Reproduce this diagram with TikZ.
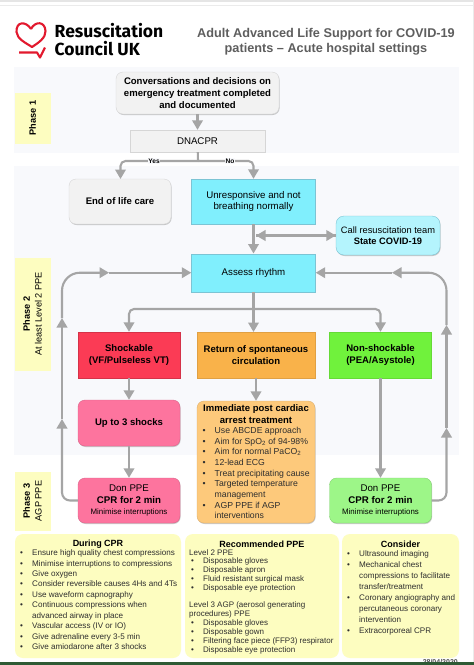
\documentclass[tikz,border=0pt]{standalone}
\usepackage{fontspec}
\setmainfont{Liberation Sans}
\newfontfamily\logofont{Fira Sans}
\usetikzlibrary{arrows.meta,shadows}
\definecolor{panelgrey}{HTML}{F8F9FC}
\definecolor{flowgrey}{HTML}{A5A5A5}
\definecolor{softgrey}{HTML}{F2F2F2}
\definecolor{softline}{HTML}{D6D6D6}
\definecolor{cyanfill}{HTML}{80EFFD}
\definecolor{cyanline}{HTML}{7CC4D4}
\definecolor{callfill}{HTML}{B4F4FD}
\definecolor{redfill}{HTML}{FB3B55}
\definecolor{orangefill}{HTML}{F9B24A}
\definecolor{greenfill}{HTML}{70F23C}
\definecolor{pinkfill}{HTML}{FD749E}
\definecolor{pinkline}{HTML}{D9638A}
\definecolor{peachfill}{HTML}{FDC97B}
\definecolor{peachline}{HTML}{DDB070}
\definecolor{limefill}{HTML}{9DF688}
\definecolor{limeline}{HTML}{84CF72}
\definecolor{notefill}{HTML}{FDFDC0}
\definecolor{titlegrey}{HTML}{5E5E5E}
\definecolor{logored}{HTML}{E2192E}
\definecolor{stripgreen}{HTML}{2E5A34}
\newcommand{\itm}[1]{\makebox[12pt][l]{\textbullet}#1}
\newcommand{\cnt}[1]{\hspace*{12pt}#1}
\newcommand{\ritm}[1]{\hspace*{2pt}\itm{#1}}
\newcommand{\panel}[2]{\fill[panelgrey] (14,#1) rectangle (459,#2)}
\tikzset{
	flow/.style = {draw=flowgrey, line width=2.1pt, rounded corners=5pt},
	tip/.style = {-{Triangle[width=10.5pt,length=9.5pt]}},
	bigbox/.style = {draw, align=center, inner sep=0pt, font=\fontsize{9.7}{11.6}\selectfont,
		drop shadow={shadow xshift=0.6pt,shadow yshift=-1pt,fill=black!35,opacity=0.6}},
	boldtext/.style = {font=\fontsize{9.55}{11.6}\selectfont\bfseries},
	softbox/.style = {bigbox, rounded corners=7pt, fill=softgrey, draw=softline},
	cyanbox/.style = {bigbox, fill=cyanfill, draw=cyanline},
	pinkbox/.style = {bigbox, rounded corners=7pt, fill=pinkfill, draw=pinkline},
	limebox/.style = {bigbox, rounded corners=7pt, fill=limefill, draw=limeline},
	phasebox/.style = {fill=notefill, draw=notefill, align=center, inner sep=0pt, rotate=90,
		font=\fontsize{9.2}{11.8}\selectfont, minimum height=35pt,
		drop shadow={shadow xshift=0.5pt,shadow yshift=-0.6pt,fill=black!30,opacity=0.4}},
	notebox/.style = {fill=notefill, rounded corners=8pt, minimum height=124pt, inner sep=0pt},
	listtext/.style = {anchor=north west, align=left, inner sep=0pt, text=black!82},
	edgelabel/.style = {fill=panelgrey, inner sep=0.6pt, font=\fontsize{6.6}{8}\selectfont\bfseries}
}

\begin{document}
\begin{tikzpicture}[x=1pt,y=-1pt]
\useasboundingbox (0,0) rectangle (474,665);
\fill[white] (0,0) rectangle (474,665);
%Page edges
	\fill[black!10] (0,0) rectangle (474,2);
	\fill[black!8] (0,4.5) rectangle (474,5.5);
	\fill[black!8] (473,0) rectangle (474,665);
%Logo
	\draw[logored, line width=2.1pt, line join=round] (31,29) .. controls (26,21) and (16,21) .. (16.5,32)
		.. controls (17,39) and (26,43) .. (32,47) .. controls (38,43) and (46,38) .. (45.5,31)
		.. controls (45,21) and (35,21) .. (31,29);
	\draw[logored, line width=2.1pt, line join=round] (19,52.5) -- (37,52.5) -- (40,57.5) -- (45,47.5);
	\node[anchor=west, inner sep=0pt, align=left, font=\logofont\fontsize{17.5}{17.5}\selectfont\bfseries] (logotext) at (54.5,39.5) {Resuscitation\\Council UK};
%Title
	\node[inner sep=0pt, align=center, text=titlegrey, font=\fontsize{12.7}{15}\selectfont\bfseries] (title) at (326,42) {Adult Advanced Life Support for COVID-19\\patients -- Acute hospital settings};
%Panels
	\panel{67}{153};
	\panel{166}{455};
%Fixed points of the connectors
	\coordinate (splitdn) at (198,161);
	\coordinate (yesend) at (120.5,179);
	\coordinate (callstub) at (256,235.5);
	\coordinate (splitas) at (253.5,309);
	\coordinate (roscin) at (253.5,332);
	\coordinate (leftlow) at (62,419);
	\coordinate (lefthigh) at (62,318);
	\coordinate (lefttop) at (109,272.7);
	\coordinate (rightlow) at (446.5,428);
	\coordinate (righthigh) at (446.5,325);
	\coordinate (righttop) at (392,272.7);
%Boxes
	\node[softbox, minimum width=163pt, minimum height=42pt, boldtext] (talk) at (197.5,93) {Conversations and decisions on\\emergency treatment completed\\and documented};
	\node[bigbox, rectangle, fill=softgrey, draw=softline, minimum width=135pt, minimum height=22pt] (dnacpr) at (197.5,141) {DNACPR};
	\node[softbox, minimum width=102pt, minimum height=45pt, boldtext] (endlife) at (120,201.5) {End of life care};
	\node[cyanbox, minimum width=124pt, minimum height=45pt] (unresp) at (253.5,201.5) {Unresponsive and not\\breathing normally};
	\node[bigbox, rounded corners=8pt, fill=callfill, draw=cyanline, minimum width=104pt, minimum height=39pt, font=\fontsize{9.3}{11.6}\selectfont] (callteam) at (388,235.5) {Call resuscitation team\\\textbf{State COVID-19}};
	\node[cyanbox, minimum width=124pt, minimum height=38pt] (assess) at (253.5,272.7) {Assess rhythm};
	\node[bigbox, fill=redfill, draw=redfill!85!black, minimum width=102pt, minimum height=46pt, boldtext] (shock) at (129,355) {Shockable\\(VF/Pulseless VT)};
	\node[bigbox, fill=orangefill, draw=orangefill!90!black, minimum width=118pt, minimum height=46pt, boldtext] (rosc) at (256,355) {Return of spontaneous\\circulation};
	\node[bigbox, fill=greenfill, draw=greenfill!90!black, minimum width=102pt, minimum height=46pt, boldtext] (noshock) at (380.5,355) {Non-shockable\\(PEA/Asystole)};
	\node[pinkbox, minimum width=102pt, minimum height=46pt, boldtext] (upto) at (129,423) {Up to 3 shocks};
	\node[pinkbox, minimum width=102pt, minimum height=45pt] (donleft) at (129,500.5) {Don PPE\\\textbf{CPR for 2 min}\\{\fontsize{7.9}{12}\selectfont Minimise interruptions}};
	\node[limebox, minimum width=102pt, minimum height=45pt] (donright) at (380.5,500.5) {Don PPE\\\textbf{CPR for 2 min}\\{\fontsize{7.9}{12}\selectfont Minimise interruptions}};
	\node[bigbox, rounded corners=7pt, fill=peachfill, draw=peachline, minimum width=118pt, minimum height=122pt] (after) at (256,462) {};
	\node[inner sep=0pt, align=center, font=\fontsize{9.5}{11.4}\selectfont\bfseries] (aftertitle) at (256,414) {Immediate post cardiac\\arrest treatment};
	\node[listtext, font=\fontsize{8.7}{10.65}\selectfont] (afterlist) at (202.5,427) {\itm{Use ABCDE approach}\\\itm{Aim for SpO\textsubscript{2} of 94-98\%}\\\itm{Aim for normal PaCO\textsubscript{2}}\\\itm{12-lead ECG}\\\itm{Treat precipitating cause}\\\itm{Targeted temperature}\\\cnt{management}\\\itm{AGP PPE if AGP}\\\cnt{interventions}};
%Connectors
	\draw[flow,tip] (talk) -- (dnacpr);
	\draw[flow] (dnacpr) -- (splitdn);
	\draw[flow,tip] (splitdn) -| (yesend);
	\draw[flow,tip] (splitdn) -| (unresp);
	\draw[flow,tip] (unresp) -- (assess);
	\draw[flow,tip] (callstub) -- (callteam);
	\draw[flow,tip] (callteam) -- (callstub);
	\draw[flow] (assess) -- (splitas);
	\draw[flow,tip] (splitas) -| (shock);
	\draw[flow,tip] (splitas) -- (roscin);
	\draw[flow,tip] (splitas) -| (noshock);
	\draw[flow,tip] (shock) -- (upto);
	\draw[flow,tip] (upto) -- (donleft);
	\draw[flow,tip] (rosc) -- (after);
	\draw[flow,tip] (noshock) -- (donright);
	\draw[flow,tip,rounded corners=8pt] (donleft) -| (leftlow);
	\draw[flow,tip] (leftlow) -- (lefthigh);
	\draw[flow,tip,rounded corners=18pt] (lefthigh) |- (lefttop);
	\draw[flow,tip] (lefttop) -- (assess);
	\draw[flow,tip,rounded corners=8pt] (donright) -| (rightlow);
	\draw[flow,tip] (rightlow) -- (righthigh);
	\draw[flow,tip,rounded corners=18pt] (righthigh) |- (righttop);
	\draw[flow,tip] (righttop) -- (assess);
	\node[edgelabel] (yes) at (154,161) {Yes};
	\node[edgelabel] (no) at (230,161) {No};
%Phases
	\node[phasebox, minimum width=50pt] (phaseone) at (32.5,118) {\textbf{Phase 1}};
	\node[phasebox, minimum width=112pt] (phasetwo) at (32.5,314) {\textbf{Phase 2}\\At least Level 2 PPE};
	\node[phasebox, minimum width=58pt] (phasethree) at (32.5,501) {\textbf{Phase 3}\\AGP PPE};
%Lower notes
	\node[notebox, minimum width=166pt] (during) at (98,596) {};
	\node[notebox, minimum width=154pt] (recommend) at (262,596) {};
	\node[notebox, minimum width=117pt] (consider) at (400.5,596) {};
	\node[inner sep=0pt, font=\fontsize{9}{11}\selectfont\bfseries] (duringtitle) at (98,544) {During CPR};
	\node[inner sep=0pt, font=\fontsize{9}{11}\selectfont\bfseries] (recommendtitle) at (262,544) {Recommended PPE};
	\node[inner sep=0pt, font=\fontsize{9}{11}\selectfont\bfseries] (considertitle) at (400.5,544) {Consider};
	\node[listtext, font=\fontsize{8.1}{10.45}\selectfont] (duringlist) at (20,549.5) {\itm{Ensure high quality chest compressions}\\\itm{Minimise interruptions to compressions}\\\itm{Give oxygen}\\\itm{Consider reversible causes 4Hs and 4Ts}\\\itm{Use waveform capnography}\\\itm{Continuous compressions when}\\\cnt{advanced airway in place}\\\itm{Vascular access (IV or IO)}\\\itm{Give adrenaline every 3-5 min}\\\itm{Give amiodarone after 3 shocks}};
	\node[listtext, font=\fontsize{8}{8.95}\selectfont] (recommendlist) at (189,549) {Level 2 PPE\\\ritm{Disposable gloves}\\\ritm{Disposable apron}\\\ritm{Fluid resistant surgical mask}\\\ritm{Disposable eye protection}\\[8pt]Level 3 AGP (aerosol generating\\procedures) PPE\\\ritm{Disposable gloves}\\\ritm{Disposable gown}\\\ritm{Filtering face piece (FFP3) respirator}\\\ritm{Disposable eye protection}};
	\node[listtext, font=\fontsize{8.1}{11.05}\selectfont] (considerlist) at (347,550) {\itm{Ultrasound imaging}\\\itm{Mechanical chest}\\\cnt{compressions to facilitate}\\\cnt{transfer/treatment}\\\itm{Coronary angiography and}\\\cnt{percutaneous coronary}\\\cnt{intervention}\\\itm{Extracorporeal CPR}};
%Bottom strip
	\node[anchor=east, inner sep=0pt, font=\fontsize{7}{9}\selectfont\bfseries, text=black!70] (datestamp) at (458,662) {28/04/2020};
	\fill[stripgreen] (0,662) rectangle (474,665);
\end{tikzpicture}
\end{document}
